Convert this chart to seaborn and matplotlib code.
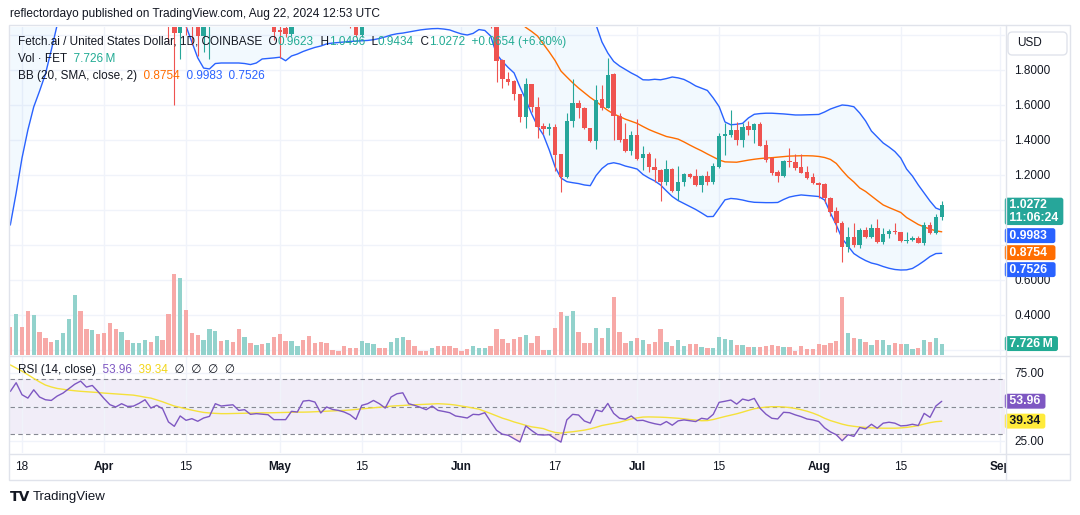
import numpy as np
import pandas as pd
import matplotlib
matplotlib.use("Agg")
import matplotlib.pyplot as plt
import matplotlib.dates as mdates
import matplotlib.transforms as mtransforms
from matplotlib.lines import Line2D
from matplotlib.patches import Rectangle, FancyBboxPatch
import seaborn as sns

# ---------------------------------------------------------------- data
dates = pd.date_range("2024-03-16", "2024-08-22", freq="D")

open_ = [2.95,2.65,2.90,2.80,2.45,2.90,2.85,2.70,2.65,2.80,
         3.00,3.15,3.35,3.20,3.10,3.20,3.10,2.90,2.70,2.65,
         2.85,2.75,2.85,2.90,3.05,2.80,2.90,2.75,2.30,2.01,
         2.25,2.12,2.08,1.994,2.15,2.25,2.40,2.35,2.50,2.40,
         2.25,2.30,2.20,2.25,2.22,2.25,2.03,2.04,2.005,2.20,
         2.30,2.28,2.20,2.15,2.12,2.10,2.08,2.07,2.10,2.07,
         2.00,2.20,2.25,2.35,2.30,2.20,2.40,2.50,2.55,2.35,
         2.30,2.28,2.25,2.30,2.22,2.18,2.15,2.12,2.10,2.08,
         2.15,2.20,2.25,2.12,1.857,1.749,1.737,1.663,1.533,1.718,
         1.590,1.480,1.461,1.472,1.320,1.190,1.509,1.610,1.585,1.467,
         1.396,1.634,1.585,1.775,1.539,1.404,1.339,1.429,1.295,1.320,
         1.248,1.229,1.162,1.234,1.110,1.158,1.206,1.195,1.143,1.195,
         1.162,1.248,1.423,1.430,1.457,1.400,1.480,1.457,1.491,1.371,
         1.295,1.219,1.196,1.282,1.274,1.248,1.219,1.187,1.154,1.149,
         1.070,0.994,0.924,0.790,0.848,0.800,0.886,0.848,0.895,0.815,
         0.861,0.880,0.872,0.823,0.829,0.838,0.813,0.914,0.867,0.9623]
high = [3.05,2.95,3.00,2.85,2.95,3.00,2.95,2.80,2.85,3.05,
        3.20,3.45,3.48,3.30,3.25,3.25,3.15,2.95,2.85,2.90,
        2.90,2.90,2.95,3.15,3.10,2.95,2.95,2.85,2.40,2.30,
        2.40,2.25,2.20,2.20,2.30,2.45,2.50,2.55,2.55,2.50,
        2.35,2.35,2.30,2.35,2.30,2.30,2.10,2.10,2.25,2.35,
        2.40,2.40,2.30,2.20,2.20,2.20,2.12,2.12,2.15,2.10,
        2.25,2.30,2.40,2.40,2.35,2.45,2.55,2.60,2.60,2.40,
        2.35,2.32,2.35,2.32,2.25,2.22,2.20,2.15,2.15,2.20,
        2.25,2.30,2.28,2.16,1.862,1.790,1.742,1.665,1.756,1.722,
        1.648,1.495,1.495,1.489,1.322,1.552,1.749,1.629,1.590,1.470,
        1.714,1.714,1.867,1.780,1.556,1.499,1.451,1.518,1.368,1.330,
        1.295,1.232,1.286,1.240,1.253,1.213,1.213,1.234,1.200,1.220,
        1.270,1.438,1.495,1.571,1.501,1.495,1.509,1.499,1.501,1.400,
        1.300,1.229,1.286,1.352,1.318,1.318,1.251,1.213,1.162,1.152,
        1.075,1.019,0.935,0.905,0.924,0.895,0.901,0.920,0.949,0.895,
        0.890,0.924,0.875,0.872,0.853,0.851,0.933,0.933,0.977,1.0496]
low = [2.55,2.55,2.70,2.35,2.35,2.75,2.60,2.60,2.60,2.75,
       2.95,3.10,3.10,3.00,3.05,3.05,2.80,2.60,2.60,2.60,
       2.65,2.70,2.80,2.85,2.75,2.70,2.70,1.953,1.60,1.861,
       2.00,1.943,1.88,1.905,1.861,2.20,2.30,2.30,2.35,2.20,
       2.15,2.15,2.10,2.20,2.10,1.971,1.87,1.99,1.995,2.15,
       2.20,2.15,2.10,2.08,2.08,2.07,2.06,2.06,2.04,1.99,
       1.99,2.15,2.20,2.25,2.15,2.15,2.35,2.40,2.25,2.25,
       2.25,2.20,2.20,2.20,2.15,2.12,2.10,2.08,2.07,2.07,
       2.10,2.15,2.04,1.733,1.695,1.714,1.629,1.505,1.467,1.562,
       1.410,1.432,1.429,1.225,1.105,1.182,1.476,1.528,1.463,1.390,
       1.349,1.571,1.581,1.400,1.387,1.333,1.314,1.286,1.229,1.215,
       1.162,1.053,1.143,1.100,1.057,1.139,1.181,1.139,1.105,1.140,
       1.150,1.238,1.314,1.419,1.371,1.362,1.429,1.381,1.365,1.276,
       1.200,1.158,1.190,1.248,1.229,1.210,1.177,1.147,1.070,1.038,
       0.968,0.876,0.705,0.762,0.790,0.785,0.838,0.838,0.810,0.806,
       0.838,0.861,0.819,0.810,0.820,0.810,0.800,0.861,0.861,0.9434]
close = [2.65,2.90,2.80,2.45,2.90,2.85,2.70,2.65,2.80,3.00,
         3.15,3.35,3.20,3.10,3.20,3.10,2.90,2.70,2.65,2.85,
         2.75,2.85,2.90,3.05,2.80,2.90,2.75,2.30,2.01,2.25,
         2.12,2.08,1.994,2.15,2.25,2.40,2.35,2.50,2.40,2.25,
         2.30,2.20,2.25,2.22,2.25,2.019,2.015,2.005,2.20,2.30,
         2.28,2.20,2.15,2.12,2.10,2.08,2.07,2.065,2.07,2.00,
         2.20,2.25,2.35,2.30,2.20,2.40,2.50,2.55,2.35,2.30,
         2.28,2.25,2.30,2.22,2.18,2.15,2.12,2.10,2.08,2.15,
         2.20,2.25,2.12,1.853,1.747,1.733,1.661,1.533,1.718,1.590,
         1.476,1.461,1.472,1.314,1.190,1.509,1.610,1.585,1.467,1.396,
         1.629,1.581,1.771,1.539,1.400,1.339,1.429,1.291,1.320,1.248,
         1.229,1.162,1.234,1.110,1.162,1.206,1.187,1.143,1.195,1.162,
         1.251,1.423,1.434,1.457,1.400,1.476,1.457,1.491,1.368,1.286,
         1.213,1.196,1.282,1.274,1.242,1.213,1.185,1.152,1.145,1.067,
         0.990,0.924,0.790,0.848,0.800,0.886,0.848,0.895,0.815,0.861,
         0.880,0.872,0.823,0.829,0.838,0.813,0.914,0.867,0.9618,1.0272]
volume_m = [19.4,28.0,19.4,30.3,27.4,15.9,11.8,9.1,10.3,15.3,
            24.4,41.0,30.3,17.8,17.1,14.4,15.3,22.1,17.8,15.9,
            10.3,8.0,8.4,10.3,9.1,13.2,10.3,28.0,55.4,52.9,
            31.0,15.3,13.7,10.3,17.8,16.4,9.6,10.3,9.1,17.8,
            12.5,8.0,6.8,7.5,8.4,12.5,14.4,9.8,9.6,6.4,
            10.3,13.2,8.4,9.1,8.4,3.4,2.7,6.4,5.0,4.8,
            9.8,8.4,7.3,4.6,5.0,9.1,11.8,12.5,10.3,6.4,
            2.9,2.9,5.0,6.4,6.4,6.4,5.0,2.9,3.9,6.4,
            5.0,5.0,6.4,17.6,10.7,8.0,10.7,12.5,13.7,8.4,
            13.2,3.4,3.4,18.7,29.6,26.9,30.3,15.9,8.4,8.4,
            18.7,11.8,18.7,39.9,15.9,8.0,9.8,11.4,10.3,7.3,
            9.1,17.6,9.1,6.4,10.3,6.4,7.3,7.3,5.5,5.0,
            5.0,12.3,11.1,10.3,6.8,6.8,5.7,5.7,5.7,6.2,
            6.8,6.2,5.7,5.7,2.7,6.2,4.3,4.3,7.7,6.8,
            8.4,9.6,39.7,15.3,11.8,11.1,9.1,6.8,10.3,10.3,
            6.8,8.4,7.7,7.7,4.3,5.0,10.3,9.1,11.8,7.726]
bb_upper = [3.45,3.45,3.40,3.30,3.30,3.35,3.40,3.45,3.50,3.55,
            3.60,3.70,3.75,3.80,3.82,3.82,3.80,3.78,3.76,3.72,
            3.70,3.68,3.66,3.65,3.64,3.63,3.62,3.62,3.60,3.60,
            3.58,3.56,3.55,3.52,3.48,3.42,3.35,3.28,3.20,3.15,
            3.10,3.05,2.98,2.90,2.84,2.80,2.75,2.72,2.68,2.66,
            2.65,2.63,2.60,2.58,2.56,2.55,2.53,2.52,2.51,2.50,
            2.50,2.50,2.50,2.50,2.50,2.52,2.54,2.56,2.58,2.58,
            2.58,2.58,2.58,2.57,2.56,2.55,2.54,2.53,2.52,2.51,
            2.50,2.49,2.48,2.50,2.52,2.52,2.50,2.48,2.46,2.44,
            2.42,2.40,2.37,2.35,2.32,2.29,2.25,2.21,2.17,2.12,
            2.057,1.96,1.897,1.849,1.823,1.803,1.783,1.766,1.744,1.743,
            1.747,1.744,1.751,1.76,1.755,1.746,1.729,1.709,1.696,1.683,
            1.64,1.591,1.503,1.487,1.49,1.495,1.526,1.547,1.551,1.553,
            1.553,1.551,1.549,1.546,1.543,1.543,1.544,1.545,1.546,1.56,
            1.577,1.589,1.60,1.597,1.59,1.554,1.509,1.451,1.417,1.383,
            1.36,1.334,1.297,1.234,1.194,1.143,1.097,1.051,1.011,0.9983]
bb_basis = [2.20,2.25,2.30,2.35,2.40,2.45,2.50,2.55,2.60,2.65,
            2.70,2.75,2.80,2.85,2.90,2.93,2.95,2.97,2.98,2.98,
            2.98,2.97,2.96,2.95,2.95,2.94,2.93,2.90,2.87,2.84,
            2.80,2.77,2.73,2.70,2.66,2.62,2.58,2.55,2.52,2.50,
            2.47,2.43,2.40,2.37,2.34,2.31,2.29,2.27,2.26,2.25,
            2.25,2.24,2.23,2.22,2.21,2.20,2.19,2.18,2.18,2.18,
            2.18,2.19,2.20,2.21,2.22,2.23,2.25,2.26,2.27,2.27,
            2.28,2.28,2.28,2.29,2.29,2.29,2.28,2.27,2.26,2.26,
            2.25,2.24,2.22,2.19,2.16,2.13,2.10,2.074,2.043,2.02,
            1.994,1.949,1.903,1.854,1.794,1.76,1.727,1.697,1.67,1.643,
            1.62,1.594,1.569,1.549,1.534,1.519,1.507,1.495,1.477,1.46,
            1.446,1.433,1.42,1.413,1.405,1.389,1.371,1.354,1.338,1.32,
            1.303,1.286,1.275,1.274,1.273,1.279,1.285,1.29,1.294,1.297,
            1.299,1.302,1.305,1.308,1.309,1.31,1.31,1.309,1.306,1.3,
            1.289,1.266,1.226,1.189,1.16,1.126,1.106,1.08,1.054,1.029,
            1.014,1.0,0.986,0.957,0.937,0.917,0.903,0.891,0.881,0.8754]
bb_lower = [0.914,1.097,1.297,1.457,1.589,1.68,1.777,1.914,2.057,2.2,
            2.35,2.45,2.55,2.62,2.66,2.68,2.66,2.62,2.58,2.55,
            2.52,2.5,2.48,2.47,2.45,2.42,2.38,2.28,2.18,2.1,
            2.05,1.96,1.869,1.811,1.806,1.837,1.84,1.84,1.84,1.84,
            1.837,1.831,1.84,1.863,1.866,1.869,1.873,1.853,1.88,1.891,
            1.906,1.918,1.929,1.937,1.949,1.954,1.957,1.96,1.963,1.965,
            1.967,1.969,1.973,1.98,1.989,2.0,2.007,2.011,2.017,2.023,
            2.029,2.033,2.036,2.037,2.034,2.029,2.017,2.006,2.0,2.009,
            2.031,2.026,1.994,1.891,1.849,1.814,1.783,1.703,1.629,1.549,
            1.48,1.429,1.343,1.246,1.183,1.162,1.156,1.151,1.143,1.139,
            1.197,1.237,1.263,1.27,1.263,1.251,1.243,1.234,1.203,1.183,
            1.166,1.143,1.109,1.077,1.054,1.037,1.02,1.003,0.983,0.962,
            0.963,1.011,1.058,1.066,1.063,1.057,1.049,1.044,1.043,1.042,
            1.042,1.043,1.06,1.074,1.081,1.086,1.083,1.08,1.077,1.057,
            0.983,0.914,0.837,0.794,0.751,0.729,0.711,0.697,0.689,0.677,
            0.667,0.66,0.657,0.658,0.666,0.686,0.709,0.734,0.751,0.7526]
rsi = [61.2,67.6,58.8,56.3,62.4,57.1,55.1,54.6,57.8,60.0,
       63.2,66.5,68.8,64.4,65.6,61.0,56.0,51.5,49.8,52.2,
       50.2,50.4,52.5,55.1,49.0,51.0,48.5,38.8,35.6,43.2,
       40.0,41.2,39.3,41.7,42.9,52.2,50.5,51.0,51.4,47.3,
       47.8,44.4,44.9,44.5,44.1,40.5,40.5,40.5,46.6,46.1,
       54.1,54.6,53.4,45.4,49.8,48.0,47.3,46.1,44.1,40.7,
       51.0,52.2,54.6,52.2,49.0,57.1,59.5,60.2,52.2,51.0,
       49.5,47.8,50.5,47.3,46.5,45.6,43.2,42.5,41.7,44.4,
       44.1,45.6,39.0,32.7,29.8,29.0,26.5,24.1,35.9,32.5,
       29.5,29.2,29.4,26.5,24.0,40.3,44.4,43.9,39.5,37.9,
       47.6,46.4,52.4,45.1,41.5,40.8,43.2,39.8,40.0,38.6,
       37.5,36.7,39.1,36.4,39.6,40.3,39.7,39.1,41.5,40.8,
       44.4,53.2,54.0,54.9,51.9,55.6,54.5,56.1,48.8,44.5,
       41.5,41.0,45.9,45.6,44.0,42.7,41.0,40.3,39.1,34.5,
       31.5,29.4,25.0,29.4,28.2,34.7,33.7,37.1,34.2,37.9,
       38.6,37.9,35.9,36.2,37.1,36.2,45.1,42.2,50.5,53.96]
rsi_ma = [80.7,78.4,76.1,73.5,70.8,68.2,65.9,64.5,63.4,62.8,
          62.2,61.7,61.3,61.0,60.7,60.4,60.0,59.7,59.4,59.1,
          58.8,58.5,57.8,57.0,56.3,55.0,53.6,52.0,50.5,49.5,
          48.4,47.5,46.6,45.8,45.4,45.1,44.9,44.9,45.0,45.1,
          45.2,45.3,45.4,45.5,45.5,45.6,45.7,45.8,45.9,46.0,
          46.0,46.1,46.3,46.5,46.7,46.9,47.1,47.3,47.6,48.0,
          48.4,48.8,49.2,49.6,50.0,50.4,50.7,50.9,51.2,51.4,
          51.6,51.8,52.0,52.2,52.0,51.7,51.2,50.5,49.8,49.0,
          48.2,46.6,45.0,43.3,41.6,40.3,38.8,37.6,36.3,35.2,
          34.6,33.9,32.3,31.1,30.6,31.2,31.6,32.2,32.8,33.7,
          34.9,36.2,37.0,37.8,38.6,39.8,41.0,41.8,42.4,42.5,
          42.4,42.3,42.1,41.8,41.5,41.1,40.6,40.2,39.7,39.8,
          40.6,41.7,42.8,43.8,44.8,46.0,47.3,48.5,49.2,49.7,
          50.0,50.0,49.8,49.4,48.7,47.8,46.7,45.3,43.6,41.5,
          39.8,38.5,37.2,36.2,35.6,35.1,34.8,34.5,34.3,34.2,
          34.2,34.2,34.4,34.8,35.4,36.1,37.3,38.3,39.0,39.34]

tick_dates = ["2024-03-18", "2024-04-01", "2024-04-15", "2024-05-01", "2024-05-15", "2024-06-01",
              "2024-06-17", "2024-07-01", "2024-07-15", "2024-08-01", "2024-08-15", "2024-09-01"]
tick_labels = ["18", "Apr", "15", "May", "15", "Jun", "17", "Jul", "15", "Aug", "15", "Sep"]
month_labels = {"Apr", "May", "Jun", "Jul", "Aug", "Sep"}
price_ticks = [0.2, 0.4, 0.6, 0.8, 1.0, 1.2, 1.4, 1.6, 1.8, 2.0]
price_tick_shown = [False, True, True, False, False, True, True, True, True, False]
rsi_ticks = [25, 50, 75]
rsi_tick_shown = [True, False, True]
rsi_levels = [70, 50, 30]
countdown = "11:06:24"
title_text = "reflectordayo published on TradingView.com, Aug 22, 2024 12:53 UTC"
symbol_text = "Fetch.ai / United States Dollar, 1D, COINBASE"

# ---------------------------------------------------------------- style
sns.set_theme(style="white")
plt.rcParams["font.family"] = ["Liberation Sans", "DejaVu Sans"]
plt.rcParams["font.size"] = 8.5

TXT = "#131722"
GRID = "#f0f3fa"
BORDER = "#e0e3eb"
UP, DOWN = "#26a69a", "#ef5350"
VUP, VDOWN = "#92d2cc", "#f7a9a7"
TEAL = "#22ab94"
BLUE, ORANGE = "#2962ff", "#ff6d00"
PURPLE, YELLOW = "#7e57c2", "#f5e13a"

W, H = 1080, 515
fig = plt.figure(figsize=(W / 100, H / 100), dpi=100)
fig.patch.set_facecolor("white")


def fx(p):
    return p / W


def fy(p):
    return 1 - p / H


def box(x0, y0, x1, y1):
    return [fx(x0), fy(y1), fx(x1) - fx(x0), fy(y0) - fy(y1)]


ax = fig.add_axes(box(10, 27, 1005, 355))
ax_rsi = fig.add_axes(box(10, 357, 1005, 453), sharex=ax)

x = mdates.date2num(dates)
o = np.array(open_)
h = np.array(high)
l = np.array(low)
c = np.array(close)
vol = np.array(volume_m)
up_mask = c >= o
cand_col = np.where(up_mask, UP, DOWN)

# ---------------------------------------------------------------- price pane
ax.fill_between(x, bb_lower, bb_upper, color="#2196f3", alpha=0.055, linewidth=0, zorder=1)
sns.lineplot(x=x, y=bb_upper, ax=ax, color=BLUE, linewidth=1.0, estimator=None, sort=False, legend=False, zorder=2)
sns.lineplot(x=x, y=bb_lower, ax=ax, color=BLUE, linewidth=1.0, estimator=None, sort=False, legend=False, zorder=2)
sns.lineplot(x=x, y=bb_basis, ax=ax, color=ORANGE, linewidth=1.0, estimator=None, sort=False, legend=False, zorder=2)

ax.vlines(x, l, h, colors=cand_col, linewidth=0.8, zorder=3)
ax.bar(x, np.maximum(np.abs(c - o), 0.004), bottom=np.minimum(o, c), width=0.76,
       color=cand_col, linewidth=0, zorder=4)

ax_vol = ax.twinx()
ax_vol.bar(x, vol, width=0.74, color=np.where(up_mask, VUP, VDOWN), linewidth=0, zorder=1)
ax_vol.set_ylim(0, 224)
ax_vol.axis("off")

ax.set_ylim(0.1714, 2.0457)
ax.yaxis.tick_right()
ax.set_yticks(price_ticks)
ax.set_yticklabels([f"{v:.4f}" if s else "" for v, s in zip(price_ticks, price_tick_shown)])
ax.tick_params(axis="y", length=0, pad=6.5, labelsize=8.5, labelcolor=TXT)
tick_nums = mdates.date2num(pd.to_datetime(tick_dates))
ax.set_xticks(tick_nums)
ax.tick_params(axis="x", length=0, labelbottom=False)
ax.grid(True, color=GRID, linewidth=1)
ax.set_axisbelow(True)
for s in ax.spines.values():
    s.set_visible(False)
ax.set_xlabel("")
ax.set_ylabel("")

# ---------------------------------------------------------------- RSI pane
rsi_a = np.array(rsi)
ax_rsi.axhspan(min(rsi_levels), max(rsi_levels), color=PURPLE, alpha=0.1, linewidth=0, zorder=0.5)
ax_rsi.fill_between(x, rsi_a, 30, where=rsi_a < 30, interpolate=True, color="#f23645", alpha=0.13,
                    linewidth=0, zorder=0.6)
for lvl in rsi_levels:
    ax_rsi.axhline(lvl, color="#868993", linewidth=0.8, linestyle=(0, (4, 3)), zorder=1)
sns.lineplot(x=x, y=rsi_ma, ax=ax_rsi, color=YELLOW, linewidth=1.0, estimator=None, sort=False, legend=False, zorder=2)
sns.lineplot(x=x, y=rsi, ax=ax_rsi, color=PURPLE, linewidth=1.0, estimator=None, sort=False, legend=False, zorder=3)
ax_rsi.set_ylim(16.0, 86.5)
ax_rsi.yaxis.tick_right()
ax_rsi.set_yticks(rsi_ticks)
ax_rsi.set_yticklabels([f"{v:.2f}" if s else "" for v, s in zip(rsi_ticks, rsi_tick_shown)])
ax_rsi.tick_params(axis="y", length=0, pad=6.5, labelsize=8.5, labelcolor=TXT)
ax_rsi.set_xticks(tick_nums)
ax_rsi.set_xticklabels(tick_labels)
ax_rsi.tick_params(axis="x", length=0, pad=6, labelsize=8.5, labelcolor=TXT)
for t in ax_rsi.get_xticklabels():
    if t.get_text() in month_labels:
        t.set_fontweight("bold")
ax_rsi.grid(True, color=GRID, linewidth=1)
ax_rsi.set_axisbelow(True)
for s in ax_rsi.spines.values():
    s.set_visible(False)
ax_rsi.set_xlabel("")
ax_rsi.set_ylabel("")

ax.set_xlim(x[0] - 0.05, x[0] + 169.8)

# ---------------------------------------------------------------- legends


def legend_line(axis, xf, yf, parts, size=8.5):
    t = axis.text(xf, yf, parts[0][0], color=parts[0][1], transform=axis.transAxes,
                  ha="left", va="center", fontsize=size, zorder=10)
    for s, col in parts[1:]:
        t = axis.annotate(s, xy=(1, 0.5), xycoords=t, ha="left", va="center",
                          color=col, fontsize=size, zorder=10)


chg = c[-1] - c[-2]
pct = chg / c[-2] * 100
legend_line(ax, 0.008, 0.9543, [
    (symbol_text, TXT), ("  O", TXT), (f"{o[-1]:.4f}", TEAL), ("  H", TXT), (f"{h[-1]:.4f}", TEAL),
    ("  L", TXT), (f"{l[-1]:.4f}", TEAL), ("  C", TXT), (f"{c[-1]:.4f}", TEAL),
    (f"  {chg:+.4f} ({pct:+.2f}%)", TEAL)])
legend_line(ax, 0.008, 0.9024, [("Vol \u00b7 FET", TXT), (f"  {vol[-1]:.3f}\u2009M", TEAL)])
legend_line(ax, 0.008, 0.8506, [("BB (20, SMA, close, 2)", TXT), (f"  {bb_basis[-1]:.4f}", ORANGE),
                                 (f"  {bb_upper[-1]:.4f}", BLUE), (f"  {bb_lower[-1]:.4f}", BLUE)])
legend_line(ax_rsi, 0.008, 0.8646, [("RSI (14, close)", TXT), (f"  {rsi[-1]:.2f}", PURPLE),
                                     (f"  {rsi_ma[-1]:.2f}", "#f2d61b"), ("  \u2205  \u2205  \u2205  \u2205", TXT)])

# ---------------------------------------------------------------- axis value tags


def side_tags(axis, items, fs=8.8):
    y0, y1 = axis.get_ylim()
    ppu = axis.get_position().height * H / (y1 - y0)
    trans = mtransforms.blended_transform_factory(axis.transAxes, axis.transData)
    prev_bottom = None
    half = 7.5
    for value, text, face, col, nl in items:
        p = (y1 - value) * ppu
        top = p - half
        if prev_bottom is not None and top < prev_bottom + 1.5:
            top = prev_bottom + 1.5
        shift = top - (p - half)
        height = 15.5 if nl == 1 else 29
        prev_bottom = top + height
        axis.annotate(text, xy=(1.0, value), xycoords=trans,
                      xytext=(0.9, (half - 1.4 - shift) * 0.72), textcoords="offset points",
                      ha="left", va="top", fontsize=fs, fontweight="bold", color=col,
                      multialignment="left", linespacing=1.05, annotation_clip=False, zorder=20,
                      bbox=dict(boxstyle="round,pad=0.12,rounding_size=0.2", fc=face, ec="none"))


side_tags(ax, [(c[-1], f" {c[-1]:.4f} \n {countdown} ", UP, "white", 2),
               (bb_upper[-1], f" {bb_upper[-1]:.4f}  ", BLUE, "white", 1),
               (bb_basis[-1], f" {bb_basis[-1]:.4f}  ", ORANGE, "white", 1),
               (bb_lower[-1], f" {bb_lower[-1]:.4f}  ", BLUE, "white", 1)])
side_tags(ax_vol, [(vol[-1], f" {vol[-1]:.3f}\u2009M ", TEAL, "white", 1)])
side_tags(ax_rsi, [(rsi[-1], f" {rsi[-1]:.2f} ", PURPLE, "white", 1),
                   (rsi_ma[-1], f" {rsi_ma[-1]:.2f} ", "#ffeb3b", TXT, 1)])

# ---------------------------------------------------------------- frame / chrome
fig.add_artist(Rectangle((fx(1005.5), fy(479.5)), fx(1069.5) - fx(1005.5), fy(454.5) - fy(479.5),
                         transform=fig.transFigure, facecolor="white", edgecolor="none", zorder=4))
fig.add_artist(Rectangle((fx(9), fy(480)), fx(1070) - fx(9), fy(25) - fy(480), transform=fig.transFigure,
                         fill=False, edgecolor=BORDER, linewidth=1, zorder=5))
for (xa, ya, xb, yb) in [(1005.5, 25, 1005.5, 480), (9, 356, 1070, 356), (9, 454, 1070, 454)]:
    fig.add_artist(Line2D([fx(xa), fx(xb)], [fy(ya), fy(yb)], transform=fig.transFigure,
                          color=BORDER, linewidth=1, zorder=5))
fig.add_artist(FancyBboxPatch((fx(1008), fy(55)), fx(1067) - fx(1008), fy(32) - fy(55),
                              boxstyle="round,pad=0,rounding_size=0.004", mutation_aspect=W / H,
                              transform=fig.transFigure, facecolor="white", edgecolor=BORDER,
                              linewidth=1, zorder=6))
fig.text(fx(1017), fy(43.5), "USD", ha="left", va="center", fontsize=8.5, color=TXT, zorder=7)

fig.text(fx(10), fy(14), title_text, ha="left", va="center", fontsize=8.6, color=TXT)
fig.text(fx(10), fy(497), "TV", ha="left", va="center", fontsize=10, fontweight="heavy",
         color=TXT, family=["DejaVu Sans"])
fig.text(fx(33), fy(497), "TradingView", ha="left", va="center", fontsize=9.5, color=TXT)

fig.savefig("out.png", dpi=100, facecolor="white")
